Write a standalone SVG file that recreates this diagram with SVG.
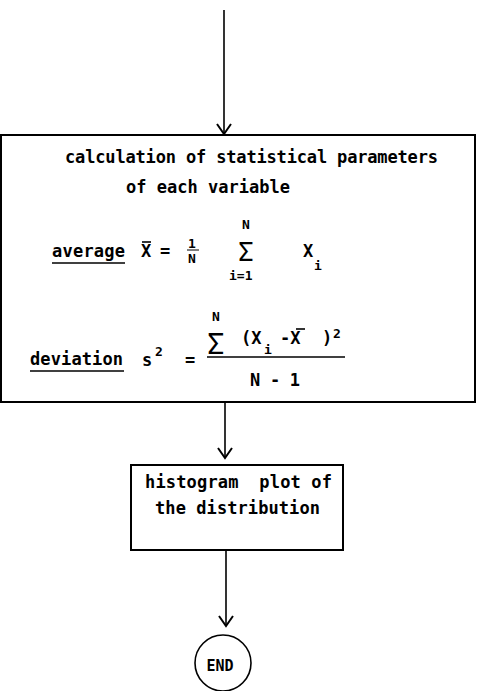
<svg xmlns="http://www.w3.org/2000/svg" width="477" height="691" viewBox="0 0 477 691">
<style>
.t{font-family:"DejaVu Sans Mono","Liberation Mono",monospace;font-weight:bold;font-size:17px;fill:#000;white-space:pre}
.s{font-size:13px}
.sg1{font-size:26px;font-weight:normal}
.sg2{font-size:29px;font-weight:normal}
.e{font-size:15px}
.ln{stroke:#000;stroke-width:2;fill:none}
.th{stroke:#000;stroke-width:1.6;fill:none}
</style>
<defs>
<marker id="ah" markerWidth="16" markerHeight="16" refX="14" refY="8" orient="auto" markerUnits="userSpaceOnUse" viewBox="0 0 16 16">
<polyline points="4,1 14,8 4,15" fill="none" stroke="#000" stroke-width="2"/>
</marker>
</defs>
<g id="connectors">
<line class="th" x1="224" y1="10" x2="224" y2="134" marker-end="url(#ah)"/>
<line class="th" x1="225" y1="403" x2="225" y2="458" marker-end="url(#ah)"/>
<line class="th" x1="226" y1="551" x2="226" y2="626" marker-end="url(#ah)"/>
</g>
<g id="calc">
<rect class="ln" x="1" y="135" width="474" height="267"/>
<text class="t" x="65" y="163" textLength="373" lengthAdjust="spacing">calculation of statistical parameters</text>
<text class="t" x="126" y="193" textLength="164" lengthAdjust="spacing">of each variable</text>
<text class="t" x="52" y="257" textLength="73" lengthAdjust="spacing">average</text>
<line class="th" x1="52" y1="263" x2="125" y2="263"/>
<text class="t" x="141" y="257">X</text>
<line class="th" x1="142" y1="242" x2="151" y2="242"/>
<text class="t" x="160" y="257">=</text>
<text class="t s" x="188" y="248">1</text>
<line x1="187" y1="250" x2="199" y2="250" stroke="#000" stroke-width="1"/>
<text class="t s" x="188" y="263">N</text>
<text class="t s" x="242" y="229">N</text>
<text class="t sg1" x="238" y="261">Σ</text>
<text class="t s" x="229" y="280">i=1</text>
<text class="t" x="303" y="257">X</text>
<text class="t s" x="314" y="270">i</text>
<text class="t" x="30" y="365" textLength="93" lengthAdjust="spacing">deviation</text>
<line class="th" x1="30" y1="371" x2="124" y2="371"/>
<text class="t" x="142" y="366">s</text>
<text class="t s" x="155" y="356">2</text>
<text class="t" x="185" y="366">=</text>
<text class="t s" x="212" y="321">N</text>
<text class="t sg2" x="207" y="354">Σ</text>
<text class="t" x="241" y="344">(X</text>
<text class="t s" x="264" y="354">i</text>
<text class="t" x="280" y="344">-X</text>
<line class="th" x1="296" y1="329" x2="305" y2="329"/>
<text class="t" x="322" y="344">)</text>
<text class="t s" x="333" y="338">2</text>
<line class="th" x1="207" y1="357" x2="345" y2="357"/>
<text class="t" x="250" y="386" textLength="50" lengthAdjust="spacing">N - 1</text>
</g>
<g id="histogram">
<rect class="ln" x="131" y="465" width="212" height="85"/>
<text class="t" x="145" y="488" textLength="187" lengthAdjust="spacing">histogram  plot of</text>
<text class="t" x="155" y="514" textLength="165" lengthAdjust="spacing">the distribution</text>
</g>
<g id="end">
<circle class="th" cx="223" cy="663" r="28"/>
<text class="t e" x="220" y="671" text-anchor="middle">END</text>
</g>
</svg>
